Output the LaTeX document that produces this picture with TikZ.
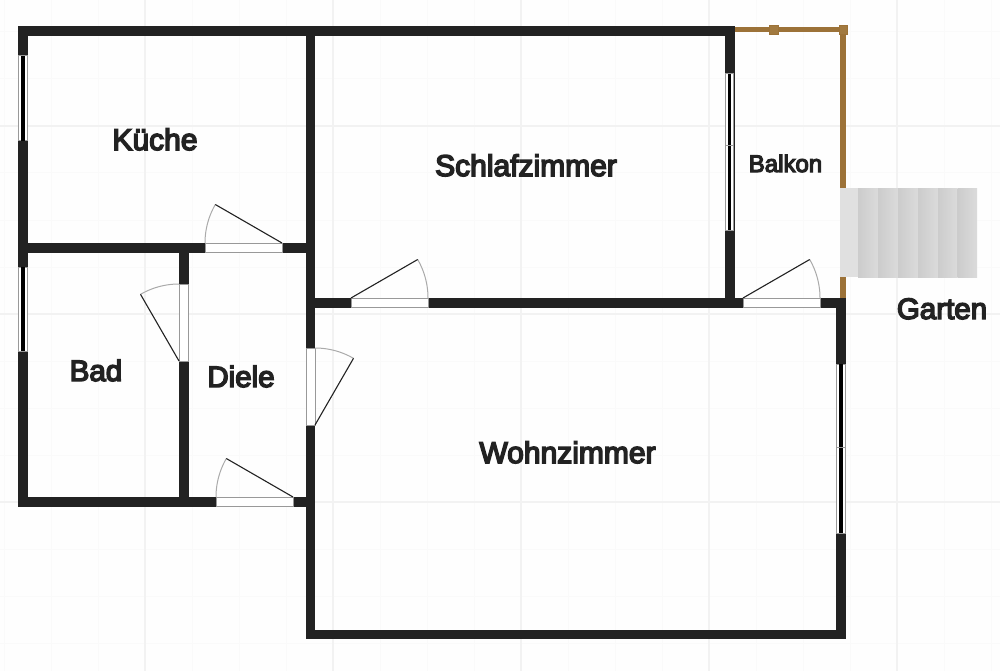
\documentclass[tikz,border=0pt]{standalone}
\usepackage{fontspec}
\setmainfont{Liberation Sans}
\newfontfamily\labfont[FakeBold=5]{Liberation Sans}
\usetikzlibrary{shadings}
\definecolor{wallc}{HTML}{222222}
\definecolor{woodc}{HTML}{9C7238}
\definecolor{postc}{HTML}{A27A40}
\definecolor{paper}{HTML}{FEFEFE}
\definecolor{gridweak}{HTML}{FAFAFA}
\definecolor{gridstrong}{HTML}{F2F2F2}
\definecolor{panelline}{HTML}{999999}
\definecolor{arcc}{HTML}{AAAAAA}
\tikzset{
  wall/.style={fill=wallc,draw=none},
  wood/.style={fill=woodc,draw=none},
  post/.style={fill=postc,draw=woodc,line width=.5pt},
  panel/.style={fill=white,draw=panelline,line width=1pt},
  glass/.style={fill=black,draw=none},
  leaf/.style={draw=wallc,line width=1.1pt},
  swing/.style={draw=arcc,line width=1pt},
  tread/.style={left color=stepa,right color=stepb,draw=none},
  label/.style={font=\labfont\fontsize{#1}{#1}\selectfont,text=wallc,anchor=base,inner sep=0pt}
}
\definecolor{stepa}{HTML}{CCCCCC}
\definecolor{stepb}{HTML}{DBDBDB}
% hinge x, hinge y, closed angle, open angle
\newcommand{\swingdoor}[4]{%
  \draw[swing] plot[domain=#3:#4,samples=14,smooth] ({#1+77*cos(\x)},{#2-77*sin(\x)});
  \draw[leaf] (#1,#2) -- ({#1+77*cos(#4)},{#2-77*sin(#4)});
}
% vertical window x0,y0,x1,y1
\newcommand{\vwindow}[4]{%
  \draw[panel] (#1,#2) rectangle (#3,#4);
  \fill[glass] ({(#1+#3)/2-1.6},#2) rectangle ({(#1+#3)/2+1.6},#4);
}
\begin{document}
\begin{tikzpicture}[x=1pt,y=-1pt]
\useasboundingbox (0,0) rectangle (1000,671);
\fill[paper] (0,0) rectangle (1000,671);
% grid
\foreach \g in {4,51,98,192,239,286,380,427,474,568,615,662,756,803,850,944,991}
  \draw[gridweak,line width=1pt] (\g,0) -- (\g,671);
\foreach \g in {32,79,173,220,267,361,408,455,549,596,643}
  \draw[gridweak,line width=1pt] (0,\g) -- (1000,\g);
\foreach \g in {145,333,521,709,897}
  \draw[gridstrong,line width=1.2pt] (\g,0) -- (\g,671);
\foreach \g in {126,314,502}
  \draw[gridstrong,line width=1.2pt] (0,\g) -- (1000,\g);
% balcony wood
\fill[wood] (733,27.5) rectangle (843,32.5);
\fill[wood] (840,33) rectangle (846,190);
\fill[wood] (840,275) rectangle (846,299);
\draw[post] (769.5,25.5) rectangle (778,34);
\draw[post] (839,25.5) rectangle (847.5,34.5);
% walls
\fill[wall] (18,26.5) rectangle (734,36);
\fill[wall] (18,26.5) rectangle (28,507);
\fill[wall] (18,243) rectangle (315,253);
\fill[wall] (18,497) rectangle (315,507);
\fill[wall] (305.5,26.5) rectangle (315,639);
\fill[wall] (179,243) rectangle (188.5,507);
\fill[wall] (315,298) rectangle (846,308);
\fill[wall] (725,26.5) rectangle (734.5,308);
\fill[wall] (836,298) rectangle (846,639);
\fill[wall] (305.5,630) rectangle (846,639);
% windows
\vwindow{18.5}{56}{27.5}{141}
\vwindow{18.5}{267}{27.5}{351}
\vwindow{725.5}{74}{733.5}{230}
\draw[panelline,line width=.7pt] (725.5,145) -- (733.5,145);
\vwindow{836.5}{364}{845.5}{533}
\draw[panelline,line width=.7pt] (836.5,447) -- (845.5,447);
% door panels
\draw[panel] (205,243.5) rectangle (282,252.5);
\draw[panel] (179.5,284) rectangle (188,361);
\draw[panel] (306,348) rectangle (315,425);
\draw[panel] (216,497.5) rectangle (293,506.5);
\draw[panel] (351,298.5) rectangle (428,307.5);
\draw[panel] (743,298.5) rectangle (820,307.5);
% door leaves
\swingdoor{282}{243}{180}{150}
\swingdoor{179}{361}{90}{120}
\swingdoor{315}{425}{90}{60}
\swingdoor{293}{497}{180}{150}
\swingdoor{351}{298}{0}{30}
\swingdoor{743}{298}{0}{30}
% stairs
\fill[white!88!black] (840,188) rectangle (858,277);
\foreach \a/\b in {858/878,878/898,898/918,918/938,938/957.5,957.5/977}
  \shade[tread] (\a,188) rectangle (\b,277);
% labels
\node[label=30] (kueche) at (155,150) {Küche};
\node[label=30] (schlaf) at (526,176) {Schlafzimmer};
\node[label=24] (balkon) at (785.5,172) {Balkon};
\node[label=29.5] (bad) at (96,381) {Bad};
\node[label=29.5] (diele) at (241,387) {Diele};
\node[label=30] (wohn) at (567.5,463) {Wohnzimmer};
\node[label=29.5] (garten) at (942,319) {Garten};
\end{tikzpicture}
\end{document}
